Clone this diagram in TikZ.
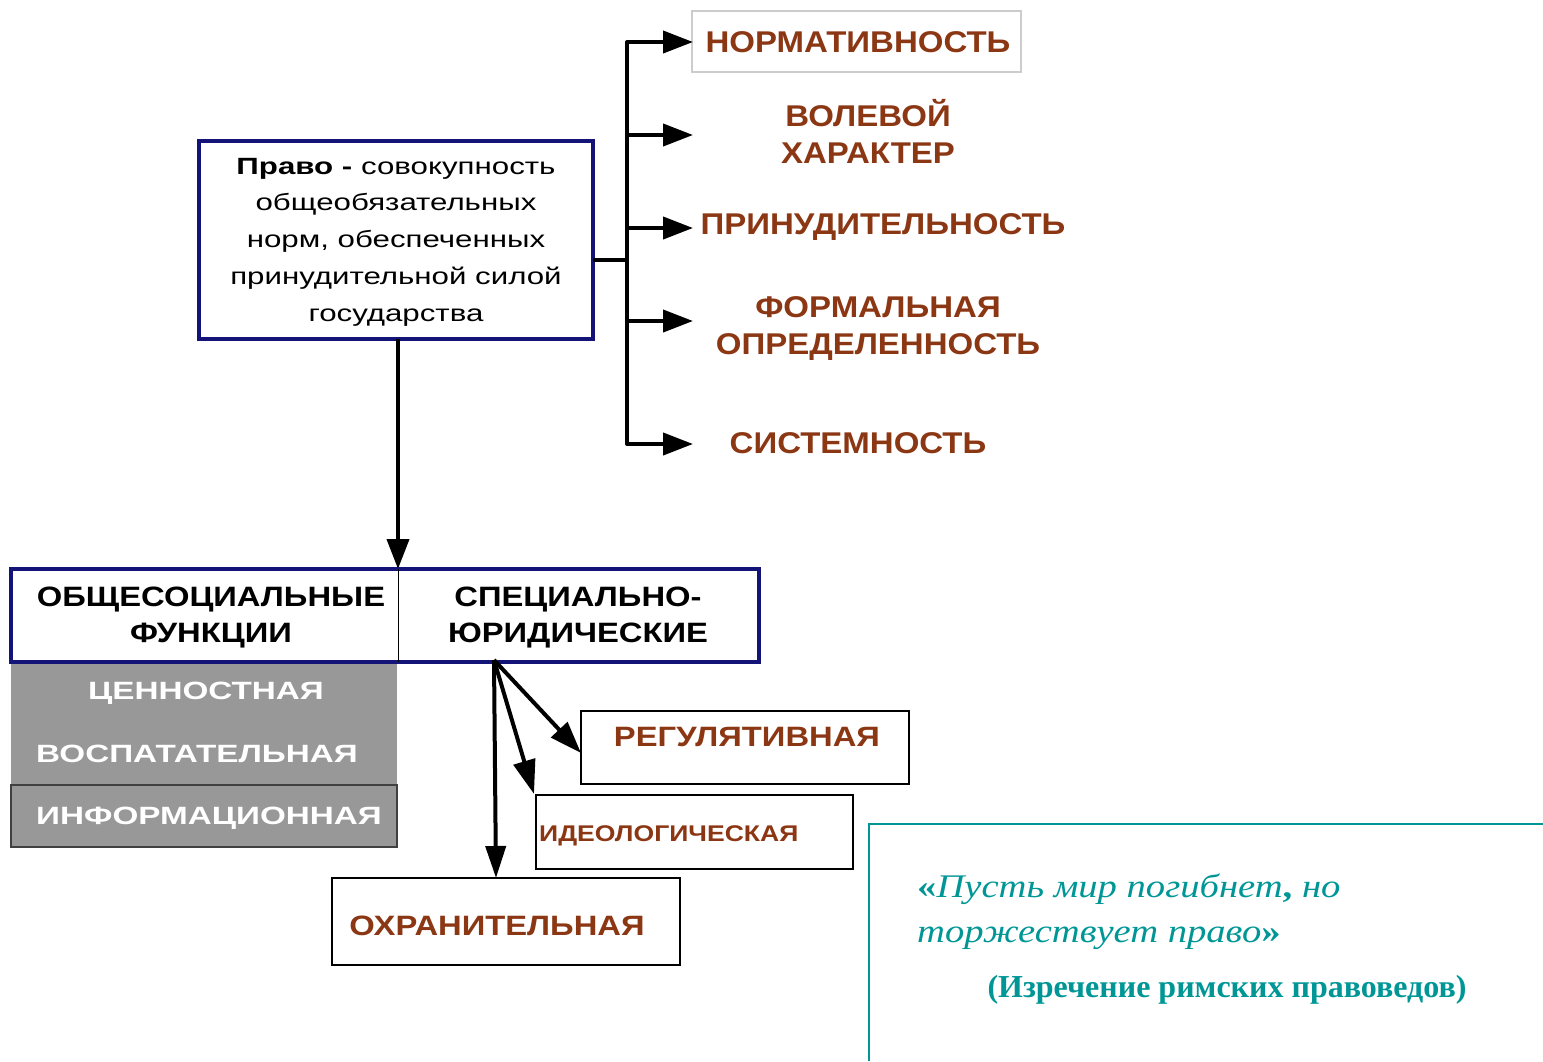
\documentclass[tikz,border=0pt]{standalone}
\usepackage{fontspec}
\setmainfont{Liberation Sans}
\newfontfamily\featfont[FakeStretch=1.1]{Liberation Sans}
\newfontfamily\widefont[FakeStretch=1.17]{Liberation Sans}
\newfontfamily\widerfont[FakeStretch=1.33]{Liberation Sans}
\newfontfamily\quotefont[FakeStretch=1.17]{Liberation Serif}
\newfontfamily\srcfont{Liberation Serif}
\usetikzlibrary{arrows.meta}
\definecolor{navyline}{RGB}{20,20,120}
\definecolor{brownword}{RGB}{140,55,20}
\definecolor{tealquote}{RGB}{0,150,150}
\definecolor{grayfill}{RGB}{152,152,152}
\tikzset{
  bigarrow/.style={-{Triangle[length=30pt,width=22pt]}, line width=4pt},
  feature/.style={text=brownword, font=\featfont\fontsize{30}{37}\selectfont\bfseries, align=center},
  funcword/.style={text=brownword, font=\widefont\fontsize{28}{34}\selectfont\bfseries},
  grayword/.style={text=white, font=\widerfont\fontsize{25}{30}\selectfont\bfseries}
}
\begin{document}
\begin{tikzpicture}[x=1pt,y=-1pt]
  \useasboundingbox (0,0) rectangle (1543,1061);
  % Определение права
  \draw[navyline, line width=3.5pt, fill=white] (199,141) rectangle (593,339);
  \node[align=center, font=\widerfont\fontsize{23.5}{36.7}\selectfont] (pravo) at (396,242)
    {\textbf{Право -} совокупность\\общеобязательных\\норм, обеспеченных\\принудительной силой\\государства};
  \coordinate (pright) at (593,260);
  \coordinate (pbottom) at (398,339);
  % Признаки права
  \coordinate (fork) at (627,260);
  \coordinate (ftop) at (627,42);
  \coordinate (fbot) at (627,444);
  \draw[line width=4pt] (pright) -- (fork);
  \draw[line width=4pt, line cap=round] (ftop) -- (fbot);
  \draw[gray!40, line width=1.2pt] (692,11) rectangle (1021,72);
  \node[feature] (norm) at (858,42) {НОРМАТИВНОСТЬ};
  \node[feature] (vol) at (868,131) {ВОЛЕВОЙ\\ХАРАКТЕР};
  \node[feature] (prin) at (883,227) {ПРИНУДИТЕЛЬНОСТЬ};
  \node[feature] (form) at (878,329) {ФОРМАЛЬНАЯ\\ОПРЕДЕЛЕННОСТЬ};
  \node[feature] (sist) at (858,443) {СИСТЕМНОСТЬ};
  \foreach \y/\n in {42/a, 135/b, 228/c, 321/d, 444/e}{
    \coordinate (s\n) at (627,\y);
    \coordinate (t\n) at (693,\y);
    \draw[bigarrow] (s\n) -- (t\n);
  }
  % Функции права
  \coordinate (ftop2) at (398,569);
  \draw[bigarrow] (pbottom) -- (ftop2);
  \fill[grayfill] (11,662) rectangle (397,847);
  \draw[black!75, line width=1.5pt] (11,785) rectangle (397,847);
  \draw[navyline, line width=3.5pt] (11,569) rectangle (759,662);
  \draw[line width=1pt] (398,569) -- (398,662);
  \node[align=center, font=\widefont\fontsize{28}{36}\selectfont\bfseries] (obsch) at (211,618)
    {ОБЩЕСОЦИАЛЬНЫЕ\\ФУНКЦИИ};
  \node[align=center, font=\widefont\fontsize{28}{36}\selectfont\bfseries] (spec) at (578,618)
    {СПЕЦИАЛЬНО-\\ЮРИДИЧЕСКИЕ};
  \node[grayword] (cenn) at (206,693) {ЦЕННОСТНАЯ};
  \node[grayword, anchor=west, inner sep=0pt] (vosp) at (36,754) {ВОСПАТАТЕЛЬНАЯ};
  \node[grayword, anchor=west, inner sep=0pt] (inf) at (36,818) {ИНФОРМАЦИОННАЯ};
  % Специально-юридические функции
  \draw[line width=1.5pt] (581,711) rectangle (909,784);
  \draw[line width=1.5pt] (536,795) rectangle (853,869);
  \draw[line width=1.5pt, fill=white] (332,878) rectangle (680,965);
  \node[funcword] (reg) at (747,737) {РЕГУЛЯТИВНАЯ};
  \node[funcword, anchor=west, inner sep=0pt, font=\widefont\fontsize{22.7}{28}\selectfont\bfseries] (ideo) at (539,836) {ИДЕОЛОГИЧЕСКАЯ};
  \node[funcword] (ohr) at (497,926) {ОХРАНИТЕЛЬНАЯ};
  \coordinate (sroot) at (494,660);
  \coordinate (treg) at (581,753);
  \coordinate (tideo) at (534,794);
  \coordinate (tohr) at (496,878);
  \draw[-{Triangle[length=32pt,width=22pt]}, line width=4pt] (sroot) -- (treg);
  \draw[-{Triangle[length=34pt,width=22pt]}, line width=4pt] (sroot) -- (tideo);
  \draw[-{Triangle[length=32pt,width=20pt]}, line width=4pt] (sroot) -- (tohr);
  % Изречение
  \draw[tealquote, line width=1.5pt] (1543,824) -| (869,1061);
  \node[text=tealquote, anchor=north west, align=left, inner sep=0pt,
        font=\quotefont\fontsize{33}{45}\selectfont\itshape] (quote) at (917,874)
    {\textbf{\upshape«}Пусть мир погибнет\textbf{\upshape,} но\\торжествует право\textbf{\upshape»}};
  \node[text=tealquote, font=\srcfont\fontsize{32}{38}\selectfont\bfseries] (src) at (1227,990)
    {(Изречение римских правоведов)};
\end{tikzpicture}
\end{document}
